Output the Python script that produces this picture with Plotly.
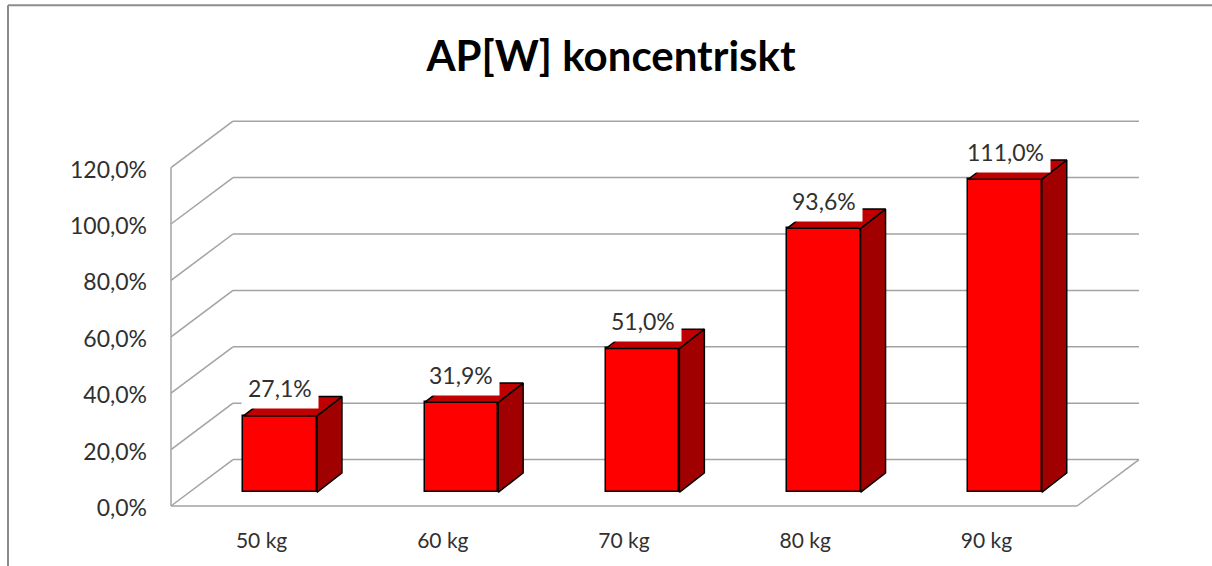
import plotly.graph_objects as go

categories = ["50 kg", "60 kg", "70 kg", "80 kg", "90 kg"]
values = [27.1, 31.9, 51.0, 93.6, 111.0]
value_labels = ["27,1%", "31,9%", "51,0%", "93,6%", "111,0%"]
y_ticks = [0, 20, 40, 60, 80, 100, 120]
y_tick_labels = ["0,0%", "20,0%", "40,0%", "60,0%", "80,0%", "100,0%", "120,0%"]
title_text = "AP[W] koncentriskt"

W, H = 1212, 566
X0, Y0 = 171.0, 505.7      # pixel of category-axis origin
PX_PER_CAT = 181.2
PX_PER_PCT = 2.82
PAD = 3.0
WALL_DX_PX, WALL_DY_PX = 62.0, 46.4
BAR_OFF_DX_PX, BAR_OFF_DY_PX = 18.6, 13.7
BAR_DX_PX, BAR_DY_PX = 25.0, 19.3
BAR_W_PX = 73.5
RIGHT_PX, TOP_PX = 1139.0, 120.7

ux = lambda px: px / PX_PER_CAT
uy = lambda px: px / PX_PER_PCT

GRID = "#a3a3a3"
FRONT, TOP, SIDE = "#ff0000", "#c00000", "#a00000"
FONT = "Lato"
TEXT = "#303030"

n = len(categories)
wall_dx, wall_dy = ux(WALL_DX_PX), uy(WALL_DY_PX)
x_right = ux(RIGHT_PX - X0)
bar_off_x, bar_base = ux(BAR_OFF_DX_PX), uy(BAR_OFF_DY_PX)
half = ux(BAR_W_PX) / 2
bdx, bdy = ux(BAR_DX_PX), uy(BAR_DY_PX)
centers = [i + 0.5 + bar_off_x for i in range(n)]

fig = go.Figure()

# front faces
fig.add_trace(go.Bar(
    x=centers, y=values, base=[bar_base] * n, width=ux(BAR_W_PX),
    marker=dict(color=FRONT, line=dict(color="black", width=1.5)),
    showlegend=False, hoverinfo="skip",
))

# side and top faces follow from each value
side_x, side_y, top_x, top_y = [], [], [], []
for c, v in zip(centers, values):
    r, l, t = c + half, c - half, bar_base + v
    side_x += [r, r + bdx, r + bdx, r, r, None]
    side_y += [bar_base, bar_base + bdy, t + bdy, t, bar_base, None]
    top_x += [l, l + bdx, r + bdx, r, l, None]
    top_y += [t, t + bdy, t + bdy, t, t, None]
for xs, ys, col in ((side_x, side_y, SIDE), (top_x, top_y, TOP)):
    fig.add_trace(go.Scatter(
        x=xs, y=ys, mode="lines", fill="toself", fillcolor=col,
        line=dict(color="black", width=1.5), showlegend=False,
        hoverinfo="skip", cliponaxis=False,
    ))

# walls and floor, below the bars
shapes = []
def seg(x0, y0, x1, y1):
    shapes.append(dict(type="line", xref="x", yref="y", x0=x0, y0=y0, x1=x1, y1=y1,
                       layer="below", line=dict(color=GRID, width=1.5)))
for t in y_ticks:
    seg(0, t, wall_dx, t + wall_dy)
    seg(wall_dx, t + wall_dy, x_right, t + wall_dy)
seg(0, 0, 0, y_ticks[-1])
seg(0, 0, n, 0)
seg(n, 0, x_right, wall_dy)

# outer frame, top and left only
pl, pr = X0 - PAD, RIGHT_PX + PAD
pt, pb = TOP_PX - PAD, Y0 + PAD
px = lambda v: (v - pl) / (pr - pl)
py = lambda v: (pb - v) / (pb - pt)
for x0, y0, x1, y1 in ((8, 5, W, 5), (8, 5, 8, H)):
    shapes.append(dict(type="line", xref="paper", yref="paper",
                       x0=px(x0), y0=py(y0), x1=px(x1), y1=py(y1),
                       line=dict(color="#8c8c8c", width=2)))

annotations = [
    dict(x=c, y=bar_base + v, xref="x", yref="y", text=lab, showarrow=False,
         xanchor="center", yanchor="middle", yshift=27.7, bgcolor="white", borderpad=6,
         font=dict(family=FONT, size=23, color=TEXT))
    for c, v, lab in zip(centers, values, value_labels)
]

fig.update_layout(
    width=W, height=H, autosize=False,
    margin=dict(l=pl, r=W - pr, t=pt, b=H - pb, pad=0, autoexpand=False),
    paper_bgcolor="white", plot_bgcolor="white",
    bargap=0, barmode="overlay", showlegend=False,
    title=dict(text=f"<b>{title_text}</b>", x=611 / W, xref="container",
               xanchor="center", y=1 - 56 / H, yanchor="middle",
               font=dict(family=FONT, size=42, color="black")),
    xaxis=dict(
        range=[ux(-PAD), ux(RIGHT_PX - X0 + PAD)], tickmode="array",
        tickvals=[i + 0.5 for i in range(n)], ticktext=categories,
        showgrid=False, zeroline=False, showline=False, ticks="",
        ticklabelstandoff=17, tickfont=dict(family=FONT, size=21, color=TEXT),
    ),
    yaxis=dict(
        range=[uy(-PAD), uy(Y0 - TOP_PX + PAD)], tickmode="array",
        tickvals=y_ticks, ticktext=y_tick_labels,
        showgrid=False, zeroline=False, showline=False, ticks="",
        ticklabelstandoff=20, ticklabelshift=2,
        tickfont=dict(family=FONT, size=23, color=TEXT),
    ),
    shapes=shapes, annotations=annotations,
)

fig.write_html("out.html", config={"displayModeBar": False},
               post_script="document.body.style.margin='0';")
